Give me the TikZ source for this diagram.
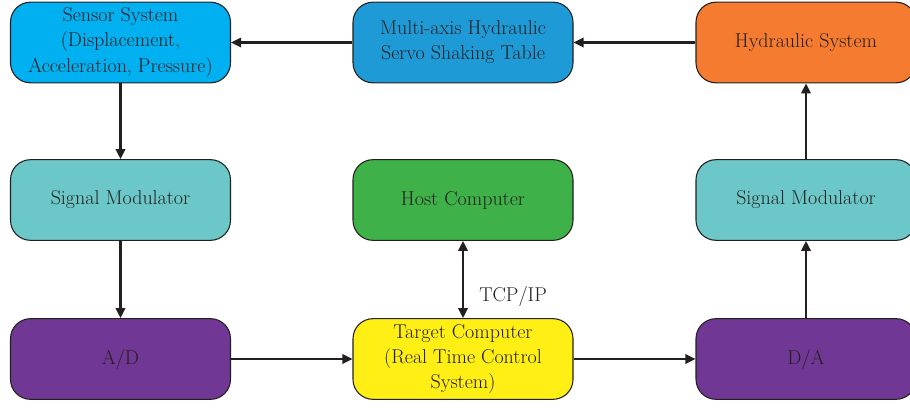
\documentclass[tikz,border=0pt]{standalone}
\usetikzlibrary{arrows.meta, positioning}

\definecolor{inkgray}{RGB}{35,31,32}
\definecolor{sensorblue}{RGB}{0,176,240}
\definecolor{tableblue}{RGB}{30,155,215}
\definecolor{hydorange}{RGB}{244,123,48}
\definecolor{modteal}{RGB}{108,200,200}
\definecolor{hostgreen}{RGB}{62,178,73}
\definecolor{convpurple}{RGB}{112,56,148}
\definecolor{targetyellow}{RGB}{255,239,20}

\begin{document}
\begin{tikzpicture}[x=0.75pt, y=-0.75pt,
	block/.style={draw=inkgray, line width=0.8pt, rounded corners=15pt,
		minimum width=165pt, minimum height=60.5pt, inner sep=0pt,
		align=center, text=inkgray, font=\fontsize{15}{18.8}\selectfont},
	link/.style={draw=inkgray, line width=1.7pt, -{Triangle[length=7.5pt, width=7pt]}}]
	\useasboundingbox (0,0) rectangle (910,407);
	% top row
	\node[block, fill=sensorblue] (sensor) at (120.5,42.5) {Sensor System\\(Displacement,\\Acceleration, Pressure)};
	\node[block, fill=tableblue] (table) at (463,42.5) {Multi-axis Hydraulic\\Servo Shaking Table};
	\node[block, fill=hydorange] (hydraulic) at (806,42.5) {Hydraulic System};
	% middle row
	\node[block, fill=modteal] (modleft) at (120.5,200) {Signal Modulator};
	\node[block, fill=hostgreen] (host) at (463,200) {Host Computer};
	\node[block, fill=modteal] (modright) at (806,200) {Signal Modulator};
	% bottom row
	\node[block, fill=convpurple] (ad) at (120.5,359) {A/D};
	\node[block, fill=targetyellow] (target) at (463,359) {Target Computer\\(Real Time Control\\System)};
	\node[block, fill=convpurple] (da) at (806,359) {D/A};
	% signal path
	\draw[link] (hydraulic) -- (table);
	\draw[link] (table) -- (sensor);
	\draw[link] (sensor) -- (modleft);
	\draw[link] (modleft) -- (ad);
	\draw[link] (ad) -- (target);
	\draw[link] (target) -- (da);
	\draw[link] (da) -- (modright);
	\draw[link] (modright) -- (hydraulic);
	\draw[link, {Triangle[length=7.5pt, width=7pt]}-{Triangle[length=7.5pt, width=7pt]}] (host) -- (target)
		node[pos=0.72, right=8pt, text=inkgray, font=\fontsize{15}{17}\selectfont] (tcp) {TCP/IP};
\end{tikzpicture}
\end{document}
